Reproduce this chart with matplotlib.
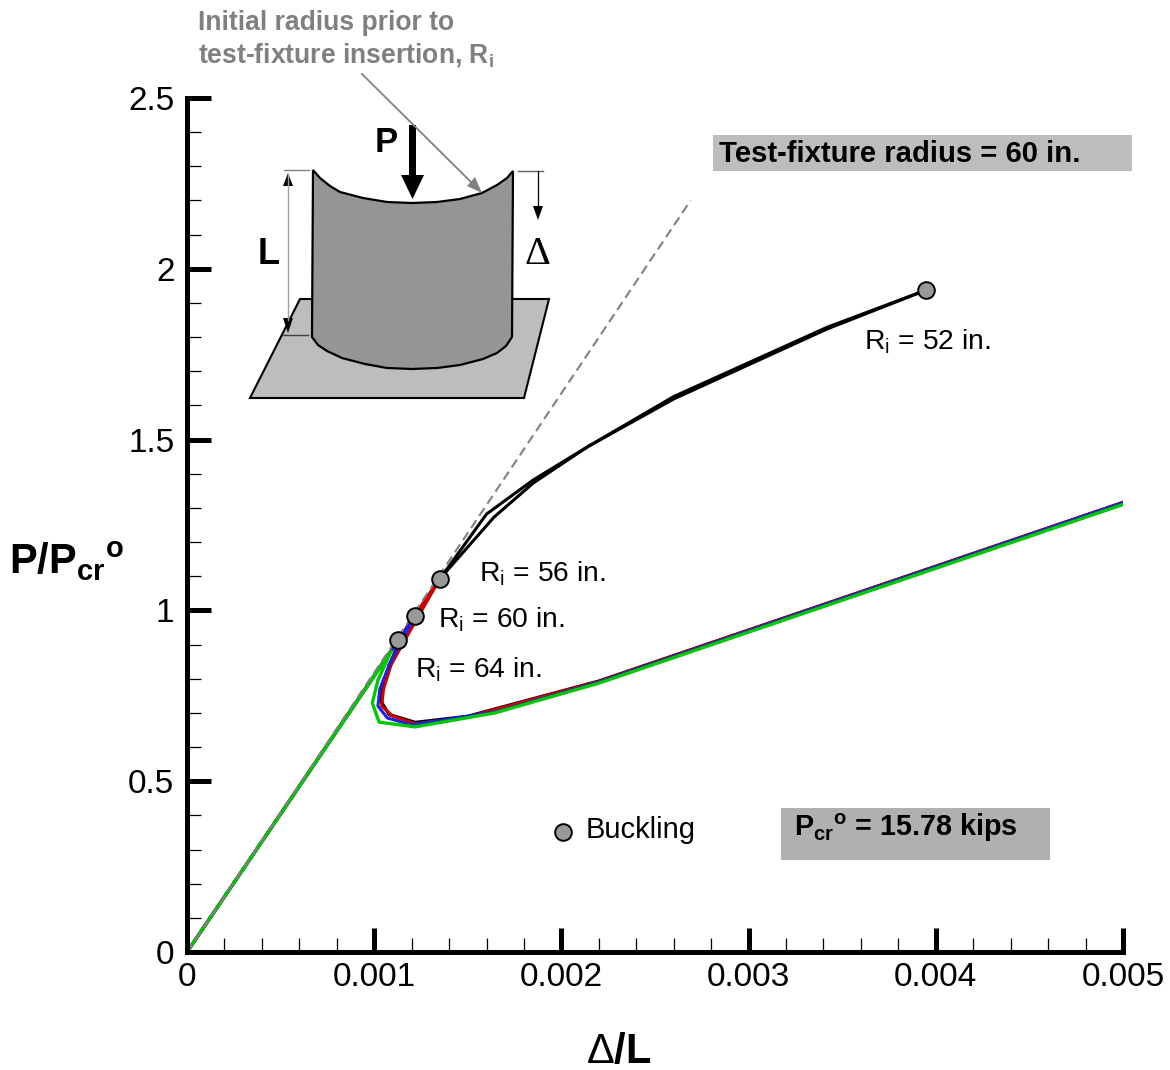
import matplotlib

matplotlib.use("Agg")
import matplotlib.pyplot as plt
from matplotlib.patches import Polygon, Rectangle
from matplotlib.ticker import MultipleLocator

plt.rcParams["font.family"] = ["Liberation Sans", "DejaVu Sans"]
plt.rcParams["mathtext.fontset"] = "custom"
plt.rcParams["mathtext.rm"] = "Liberation Sans"
plt.rcParams["mathtext.it"] = "Liberation Sans:italic"
plt.rcParams["mathtext.bf"] = "Liberation Sans:bold"

# Reference line (dashed)
ref_x = [0, 0.00269]
ref_y = [0, 2.2]

# Ri = 52 in. loading and unloading, black
upper_a_x = [0.00135, 0.0016, 0.00185, 0.00214, 0.0026, 0.00342, 0.00395]
upper_a_y = [1.092, 1.282, 1.382, 1.479, 1.626, 1.829, 1.938]
upper_b_x = [0.00135, 0.00164, 0.00185, 0.00214, 0.0026, 0.00342, 0.00395]
upper_b_y = [1.092, 1.273, 1.373, 1.479, 1.619, 1.824, 1.938]

# Post-buckling branches
black_x = [0, 0.00135, 0.00113, 0.00108, 0.00104, 0.00104, 0.00108, 0.00122, 0.0015, 0.0022, 0.005]
black_y = [0, 1.092, 0.90, 0.84, 0.77, 0.73, 0.695, 0.672, 0.69, 0.793, 1.316]
red_x = [0, 0.00135, 0.00115, 0.00109, 0.00105, 0.00104, 0.0011, 0.00122, 0.0015, 0.0022, 0.005]
red_y = [0, 1.092, 0.90, 0.84, 0.77, 0.72, 0.69, 0.668, 0.688, 0.792, 1.316]
blue_x = [0, 0.001218, 0.00108, 0.00103, 0.00102, 0.00107, 0.0012, 0.00165, 0.0022, 0.005]
blue_y = [0, 0.984, 0.84, 0.77, 0.72, 0.685, 0.665, 0.703, 0.79, 1.315]
green_x = [0, 0.00109, 0.00102, 0.00099, 0.001026, 0.001218, 0.001645, 0.0022, 0.005]
green_y = [0, 0.88, 0.796, 0.729, 0.673, 0.659, 0.70, 0.787, 1.31]

# Buckling points
buckling_x = [0.001127, 0.001218, 0.00135, 0.00395]
buckling_y = [0.913, 0.984, 1.092, 1.938]

x_ticks = [0, 0.001, 0.002, 0.003, 0.004, 0.005]
x_tick_labels = ["0", "0.001", "0.002", "0.003", "0.004", "0.005"]
y_ticks = [0, 0.5, 1, 1.5, 2, 2.5]
y_tick_labels = ["0", "0.5", "1", "1.5", "2", "2.5"]

# Sketch outlines, in image pixels
plate = [(250, 398), (300, 299), (549, 299), (524, 398)]
shell_top = [(313, 170), (320, 178), (330, 186), (340, 192), (363, 198), (387, 202), (412, 203),
             (437, 202), (460, 199), (482, 193), (497, 185), (507, 178), (513, 171)]
shell_bottom = [(512, 337), (506, 346), (497, 353), (483, 359), (460, 365), (437, 368), (412, 369),
                (387, 368), (365, 364), (342, 358), (327, 351), (318, 345), (312, 337)]

fig = plt.figure(figsize=(11.7, 10.7), dpi=100)
ax = fig.add_axes([187 / 1170, 118 / 1070, 936 / 1170, 854 / 1070])

ax.plot(black_x, black_y, color="black", lw=2.4)
ax.plot(upper_a_x, upper_a_y, color="black", lw=2.2)
ax.plot(upper_b_x, upper_b_y, color="black", lw=2.2)
ax.plot(red_x, red_y, color="#d00000", lw=2.2)
ax.plot(blue_x, blue_y, color="#2020e0", lw=2.2)
ax.plot(green_x, green_y, color="#00c800", lw=2.4)
ax.plot(ref_x, ref_y, color="#808080", lw=1.5, dashes=(4.5, 2.5))
ax.plot(buckling_x, buckling_y, "o", ms=12, mfc="#999999", mec="black", mew=1.4, zorder=5)

ax.set_xlim(0, 0.005)
ax.set_ylim(0, 2.5)
ax.set_xticks(x_ticks, x_tick_labels)
ax.set_yticks(y_ticks, y_tick_labels)
ax.xaxis.set_minor_locator(MultipleLocator(0.0002))
ax.yaxis.set_minor_locator(MultipleLocator(0.1))
ax.tick_params(which="major", direction="in", length=17, width=3.6, labelsize=24)
ax.tick_params(which="minor", direction="in", length=10, width=0.9)
ax.tick_params(axis="x", which="major", pad=7)
ax.tick_params(axis="y", which="major", pad=9)
for side in ["top", "right"]:
    ax.spines[side].set_visible(False)
for side in ["left", "bottom"]:
    ax.spines[side].set_linewidth(3.6)

ax.set_xlabel(r"$\Delta$/L", fontsize=30, fontweight="bold")
ax.xaxis.set_label_coords(0.461, -0.094)
ax.set_ylabel(r"$\mathbf{P/P_{cr}{}^{o}}$", fontsize=30, rotation=0, va="center", ha="center")
ax.yaxis.set_label_coords(-0.129, 0.457)

# Overlay in image pixels for the sketch and the notes
ov = fig.add_axes([0, 0, 1, 1], facecolor="none")
ov.set_xlim(0, 1170)
ov.set_ylim(1070, 0)
ov.axis("off")

ov.add_patch(Polygon(plate, closed=True, fc="#bdbdbd", ec="black", lw=1.5))
ov.add_patch(Polygon(shell_top + shell_bottom, closed=True, fc="#959595", ec="black", lw=1.6))

# Dimension lines
ov.plot([284, 309], [170, 170], color="#808080", lw=1)
ov.plot([282, 308], [335, 335], color="#404040", lw=1)
ov.plot([518, 543], [171, 171], color="#606060", lw=1)
ov.plot([288, 288], [175, 320], color="#a0a0a0", lw=1)
ov.plot([538, 538], [171, 207], color="black", lw=0.9)
ov.add_patch(Polygon([(288, 173), (283, 186), (293, 186)], fc="black", ec="none"))
ov.add_patch(Polygon([(288, 333), (283, 318), (293, 318)], fc="black", ec="none"))
ov.add_patch(Polygon([(538, 220), (533, 206), (543, 206)], fc="black", ec="none"))

# Callout arrow and load arrow
ov.plot([362, 472], [74, 183], color="#808080", lw=1.3)
ov.add_patch(Polygon([(482, 193), (467, 186), (475, 177)], fc="#808080", ec="none"))
ov.add_patch(Polygon([(409, 125), (416, 125), (416, 175), (424, 175), (412.5, 199), (401, 175), (409, 175)],
                     fc="black", ec="none"))

ov.text(198, 23, "Initial radius prior to", fontsize=19.1, fontweight="bold", color="#808080", va="center")
ov.text(198, 55, r"test-fixture insertion, R$_{\mathbf{i}}$", fontsize=19.1, fontweight="bold", color="#808080", va="center")
ov.text(386, 143, "P", fontsize=25, fontweight="bold", ha="center", va="center")
ov.text(269, 254, "L", fontsize=26, fontweight="bold", ha="center", va="center")
ov.text(537, 254, "\u0394", fontsize=29, family="Liberation Serif", ha="center", va="center")

ov.add_patch(Rectangle((713, 135), 419, 36, fc="#bdbdbd", ec="none"))
ov.text(719, 154, "Test-fixture radius = 60 in.", fontsize=21.1, fontweight="bold", va="center")
ov.add_patch(Rectangle((781, 808), 269, 52, fc="#b0b0b0", ec="none"))
ov.text(794, 836, r"$\mathbf{P_{cr}{}^{o}}$ = 15.78 kips", fontsize=20.7, fontweight="bold", va="baseline")

for label_x, label_y, radius in [(864, 349, 52), (479, 581, 56), (438, 628, 60), (415, 678, 64)]:
    ov.text(label_x, label_y, r"R$_{\mathrm{i}}$ = %d in." % radius, fontsize=20.3, va="baseline")

ov.plot([563], [832], "o", ms=12, mfc="#999999", mec="black", mew=1.4)
ov.text(586, 838, "Buckling", fontsize=21, va="baseline")

fig.savefig("out.png", dpi=100)
